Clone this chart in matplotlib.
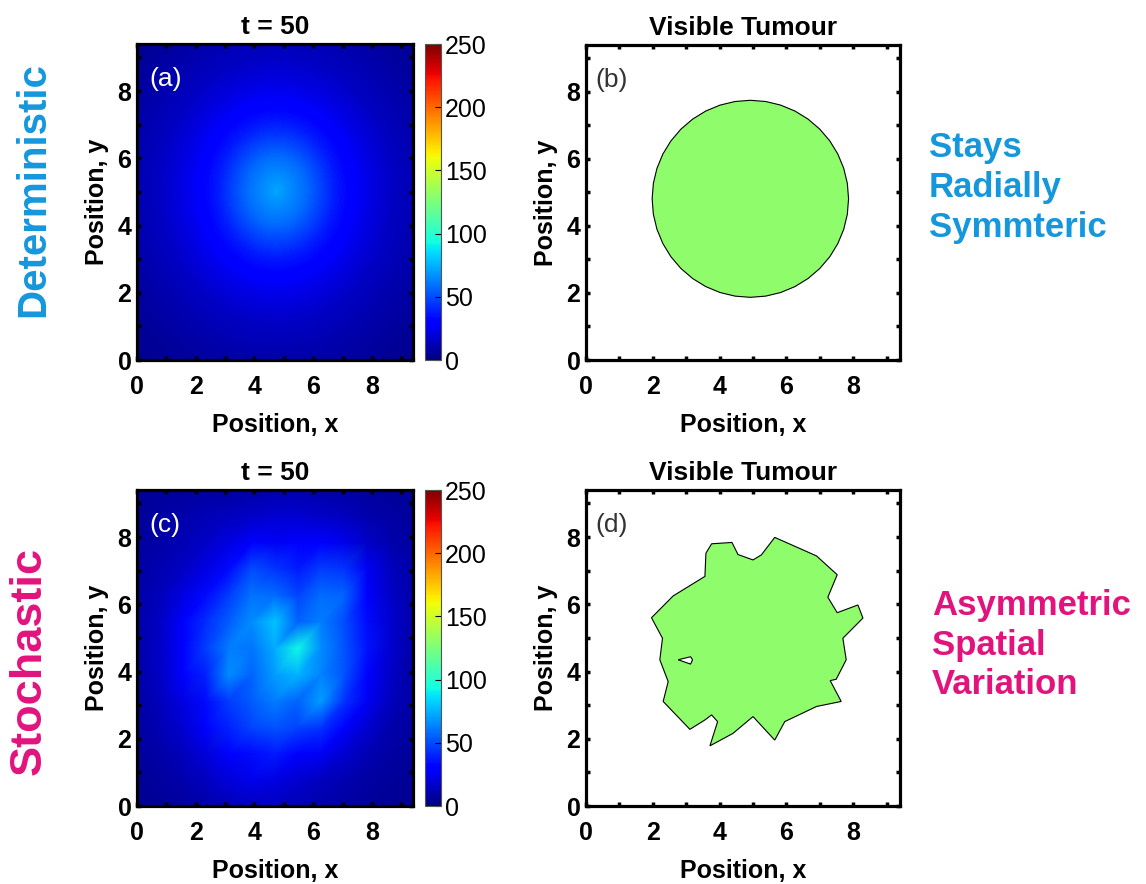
import numpy as np
import matplotlib.pyplot as plt
import matplotlib.tri as mtri
from matplotlib.patches import Polygon, RegularPolygon

plt.rcParams['font.family'] = ['Liberation Sans', 'DejaVu Sans']

L = 9.4  # domain size

# deterministic density: radial profile about the centre
det_centre = (4.75, 5.05)
det_r = [0.0, 1.0, 2.0, 3.0, 4.0, 5.0, 6.0, 7.0]
det_val = [72, 58, 38, 24, 15, 10, 6, 4]

# stochastic density on a coarse 13x13 grid (rows from top y=9.4 down to y=0)
sto_val = [
    [6, 6, 7, 8, 8, 9, 10, 10, 9, 8, 7, 6, 5],
    [6, 8, 10, 12, 14, 16, 18, 18, 16, 14, 10, 8, 6],
    [7, 9, 12, 16, 22, 28, 26, 30, 32, 24, 16, 10, 7],
    [8, 11, 15, 22, 34, 50, 44, 38, 46, 44, 26, 14, 8],
    [9, 13, 22, 34, 46, 60, 58, 48, 58, 56, 32, 16, 9],
    [9, 15, 28, 42, 54, 66, 80, 55, 62, 50, 34, 18, 9],
    [9, 16, 30, 46, 62, 60, 74, 92, 66, 52, 36, 18, 9],
    [9, 15, 28, 40, 66, 56, 70, 76, 64, 52, 32, 16, 8],
    [8, 13, 22, 34, 46, 54, 62, 56, 70, 44, 26, 14, 8],
    [7, 11, 18, 32, 40, 48, 52, 48, 44, 32, 18, 10, 7],
    [6, 9, 13, 20, 30, 34, 38, 30, 26, 18, 12, 8, 6],
    [5, 7, 10, 14, 20, 24, 22, 18, 14, 11, 8, 6, 5],
    [4, 5, 7, 9, 12, 14, 14, 12, 10, 8, 6, 5, 4],
]

# visible tumour outlines
circ_centre = (4.92, 4.81)
circ_radius = 2.94
tum_x = [3.76, 4.37, 4.55, 5.00, 5.25, 5.65, 6.90, 7.52, 7.24, 7.52, 8.14, 8.29,
         7.69, 7.79, 7.49, 7.31, 7.64, 6.90, 5.95, 5.65, 5.00, 4.40, 3.71, 3.94,
         3.76, 3.56, 3.11, 2.31, 2.46, 2.21, 2.29, 1.96, 2.61, 3.56, 3.59]
tum_y = [7.80, 7.84, 7.48, 7.32, 7.47, 7.99, 7.44, 6.88, 6.21, 5.75, 5.98, 5.59,
         4.99, 4.35, 3.77, 3.73, 3.11, 2.96, 2.51, 1.96, 2.66, 2.16, 1.79, 2.51,
         2.71, 2.56, 2.28, 3.11, 3.70, 4.35, 4.99, 5.60, 6.25, 6.83, 7.52]
hole_x = [2.76, 3.13, 3.19, 3.13]
hole_y = [4.35, 4.44, 4.35, 4.22]

blue = '#1597dc'
pink = '#e2137d'
green = '#8ffc6b'
W, H = 1146, 884


def box(px_left, px_top, px_w, px_h):
    return [px_left / W, 1 - (px_top + px_h) / H, px_w / W, px_h / H]


def style_axes(ax):
    ax.set_xlim(0, L)
    ax.set_ylim(0, L)
    ax.set_xticks([0, 2, 4, 6, 8])
    ax.set_yticks([0, 2, 4, 6, 8])
    ax.set_xticks([1, 3, 5, 7, 9], minor=True)
    ax.set_yticks([1, 3, 5, 7, 9], minor=True)
    ax.tick_params(which='both', direction='in', length=3, width=2.5,
                   top=True, right=True, labelsize=18)
    ax.tick_params(axis='x', which='major', pad=11)
    ax.tick_params(axis='y', which='major', pad=4)
    for lab in ax.get_xticklabels() + ax.get_yticklabels():
        lab.set_fontweight('bold')
    for s in ax.spines.values():
        s.set_linewidth(2.3)
    ax.set_xlabel('Position, x', fontsize=18, fontweight='bold', labelpad=10)
    ax.set_ylabel('Position, y', fontsize=18, fontweight='bold', labelpad=6)


def style_cbar(cax, mappable):
    cb = fig.colorbar(mappable, cax=cax)
    cb.set_ticks([0, 50, 100, 150, 200, 250])
    cb.outline.set_linewidth(0.8)
    cb.outline.set_edgecolor('#555555')
    cax.tick_params(direction='in', length=4, width=0.8, labelsize=18, pad=3)
    return cb


fig = plt.figure(figsize=(W / 100, H / 100), dpi=100)

# (a) deterministic density
ax_a = fig.add_axes(box(137, 44, 276, 316))
gx, gy = np.meshgrid(np.linspace(0, L, 200), np.linspace(0, L, 200))
rr = np.hypot(gx - det_centre[0], gy - det_centre[1])
field = np.interp(rr, det_r, det_val)
im_a = ax_a.imshow(field, origin='lower', extent=[0, L, 0, L], cmap='jet',
                   vmin=0, vmax=250, aspect='auto')
style_axes(ax_a)
ax_a.set_title('t = 50', fontsize=19, fontweight='bold', pad=7)
ax_a.text(0.045, 0.89, '(a)', transform=ax_a.transAxes, color='white',
          fontsize=19, va='center', ha='left')
style_cbar(fig.add_axes(box(425, 44, 16, 316)), im_a)

# (c) stochastic density, gouraud-shaded on the coarse grid
ax_c = fig.add_axes(box(137, 490, 276, 316))
z = np.flipud(np.array(sto_val, dtype=float))
ny, nx = z.shape
xs = np.linspace(0, L, nx)
ys = np.linspace(0, L, ny)
px, py = np.meshgrid(xs, ys)
tris = []
for j in range(ny - 1):
    for i in range(nx - 1):
        k = j * nx + i
        tris.append([k, k + 1, k + nx + 1])
        tris.append([k, k + nx + 1, k + nx])
tri = mtri.Triangulation(px.ravel(), py.ravel(), tris)
im_c = ax_c.tripcolor(tri, z.ravel(), shading='gouraud', cmap='jet',
                      vmin=0, vmax=250)
style_axes(ax_c)
ax_c.set_title('t = 50', fontsize=19, fontweight='bold', pad=7)
ax_c.text(0.045, 0.89, '(c)', transform=ax_c.transAxes, color='white',
          fontsize=19, va='center', ha='left')
style_cbar(fig.add_axes(box(425, 490, 16, 316)), im_c)

# (b) visible tumour, deterministic
ax_b = fig.add_axes(box(586, 45, 314, 315))
ax_b.add_patch(RegularPolygon(circ_centre, numVertices=40, radius=circ_radius,
                              facecolor=green, edgecolor='black', linewidth=0.8))
style_axes(ax_b)
ax_b.set_title('Visible Tumour', fontsize=19, fontweight='bold', pad=7)
ax_b.text(0.03, 0.89, '(b)', transform=ax_b.transAxes, color='#333333',
          fontsize=19, va='center', ha='left')

# (d) visible tumour, stochastic
ax_d = fig.add_axes(box(586, 490, 314, 316))
ax_d.add_patch(Polygon(np.column_stack([tum_x, tum_y]), closed=True,
                       facecolor=green, edgecolor='black', linewidth=0.8))
ax_d.add_patch(Polygon(np.column_stack([hole_x, hole_y]), closed=True,
                       facecolor='white', edgecolor='black', linewidth=0.8))
style_axes(ax_d)
ax_d.set_title('Visible Tumour', fontsize=19, fontweight='bold', pad=7)
ax_d.text(0.03, 0.89, '(d)', transform=ax_d.transAxes, color='#333333',
          fontsize=19, va='center', ha='left')

# side annotations
fig.text(33 / W, 1 - 190 / H, 'Deterministic', rotation=90, color=blue,
         fontsize=29, fontweight='bold', ha='center', va='center')
fig.text(29 / W, 1 - 661 / H, 'Stochastic', rotation=90, color=pink,
         fontsize=32.5, fontweight='bold', ha='center', va='center')
for i, word in enumerate(['Stays', 'Radially', 'Symmteric']):
    fig.text(929 / W, 1 - (148 + 40 * i) / H, word, color=blue, fontsize=25,
             fontweight='bold', ha='left', va='center')
for i, word in enumerate(['Asymmetric', 'Spatial', 'Variation']):
    fig.text(932 / W, 1 - (605 + 40 * i) / H, word, color=pink, fontsize=25,
             fontweight='bold', ha='left', va='center')

fig.savefig('out.png', dpi=100)
